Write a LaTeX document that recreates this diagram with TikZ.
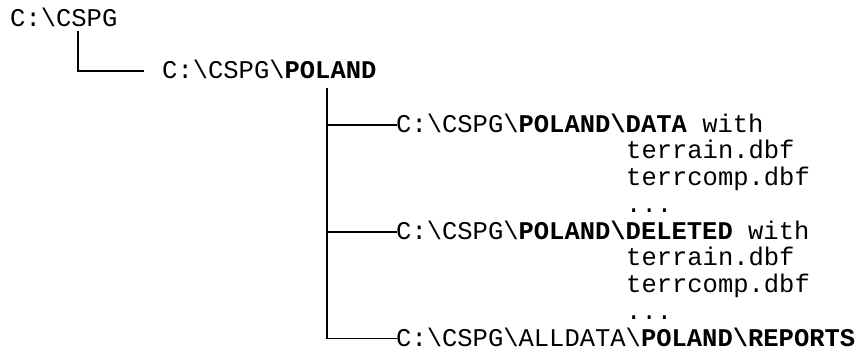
\documentclass[tikz,border=0pt]{standalone}
\usepackage{fontspec}
\setmonofont{Liberation Mono}
\newcommand{\bs}{\textbackslash}
\begin{document}
\begin{tikzpicture}[x=1pt,y=-1pt,
  dirname/.style={inner sep=0pt, anchor=west, text height=14.5pt, text depth=0pt,
    font=\ttfamily\fontsize{25.5}{26.7}\selectfont},
  branch/.style={line width=1.3pt, line cap=rect}]
\useasboundingbox (0,0) rectangle (856,355);

% directory entries
\node[dirname] (root)    at (10,19.5)  {C:\bs CSPG};
\node[dirname] (poland)  at (162,71)   {C:\bs CSPG\bs\textbf{POLAND}};
\node[dirname] (data)    at (396,125)  {C:\bs CSPG\bs\textbf{POLAND\bs DATA} with};
\node[dirname] (d1)      at (626,151.7) {terrain.dbf};
\node[dirname] (d2)      at (626,178.4) {terrcomp.dbf};
\node[dirname] (d3)      at (626,205)   {...};
\node[dirname] (deleted) at (396,232)  {C:\bs CSPG\bs\textbf{POLAND\bs DELETED} with};
\node[dirname] (e1)      at (626,258.7) {terrain.dbf};
\node[dirname] (e2)      at (626,285.4) {terrcomp.dbf};
\node[dirname] (e3)      at (626,312)   {...};
\node[dirname] (reports) at (396,338.8) {C:\bs CSPG\bs ALLDATA\bs\textbf{POLAND\bs REPORTS}};

% tree branches
\coordinate (top1) at ([xshift=68pt,yshift=-5pt]root.south west);
\draw[branch] (top1) |- ([xshift=-19pt]poland.west);

\coordinate (top2) at ([xshift=165pt,yshift=-10pt]poland.south west);
\draw[branch] (top2) |- (data.west);
\draw[branch] (top2) |- (deleted.west);
\draw[branch] (top2) |- (reports.west);
\end{tikzpicture}
\end{document}
